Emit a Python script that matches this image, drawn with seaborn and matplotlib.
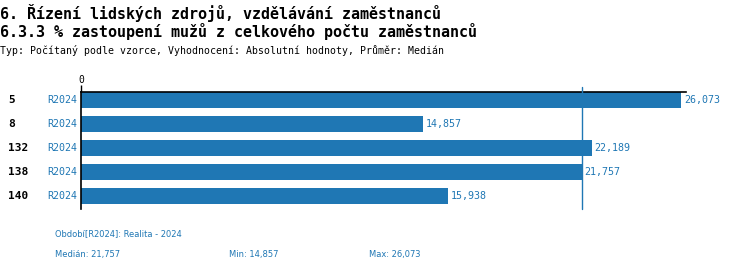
import matplotlib
matplotlib.use("Agg")
import matplotlib.pyplot as plt
import matplotlib.transforms as mtransforms
import seaborn as sns
import pandas as pd

title1 = "6. Řízení lidských zdrojů, vzdělávání zaměstnanců"
title2 = "6.3.3 % zastoupení mužů z celkového počtu zaměstnanců"
subtitle = "Typ: Počítaný podle vzorce, Vyhodnocení: Absolutní hodnoty, Průměr: Medián"
ids = ["5", "8", "132", "138", "140"]
periods = ["R2024", "R2024", "R2024", "R2024", "R2024"]
values = [26.073, 14.857, 22.189, 21.757, 15.938]
value_labels = ["26,073", "14,857", "22,189", "21,757", "15,938"]
median_val = 21.757
footer_period = "Období[R2024]: Realita - 2024"
footer_stats = ["Medián: 21,757", "Min: 14,857", "Max: 26,073"]

BLUE = "#1f77b4"
sns.set_style("white")
plt.rcParams['font.family'] = ['DejaVu Sans Mono', 'DejaVu Sans']
plt.rcParams['text.color'] = 'black'
plt.rcParams['xtick.color'] = 'black'

df = pd.DataFrame({"id": ids, "value": values})

fig = plt.figure(figsize=(7.5, 2.72), dpi=100)
ax = fig.add_axes([81/750, 1-209/272, (686-81)/750, (209-92)/272])
sns.barplot(data=df, x="value", y="id", order=ids, color=BLUE, saturation=1,
            width=0.667, linewidth=0, ax=ax)
ax.set_xlim(0, 26.29)
ax.set_ylim(4.54, -0.333)
ax.set_xlabel("")
ax.set_ylabel("")

for s in ["right", "bottom"]:
    ax.spines[s].set_visible(False)
for s in ["top", "left"]:
    ax.spines[s].set_color("black")
    ax.spines[s].set_linewidth(1.2)

ax.xaxis.tick_top()
ax.set_xticks([0])
ax.set_xticklabels(["0"], fontsize=7, color="black")
ax.tick_params(axis="x", length=5, width=1, color="black", pad=0, top=True, bottom=False)
ax.set_yticks([])

ax.axvline(median_val, ymin=0, ymax=1.045, color=BLUE, lw=1, clip_on=False, zorder=5)

blend = mtransforms.blended_transform_factory(fig.transFigure, ax.transData)
for i, (cid, per, lab, v) in enumerate(zip(ids, periods, value_labels, values)):
    ax.text(8/750, i, cid, transform=blend, ha="left", va="center",
            fontsize=8, fontweight="bold", color="black")
    ax.text(77/750, i, per, transform=blend, ha="right", va="center",
            fontsize=7.2, color=BLUE)
    ax.text(v + 0.12, i, lab, ha="left", va="center", fontsize=7.2, color=BLUE)

fig.text(0, 1-13/272, title1, fontsize=10.8, fontweight="bold", va="center", ha="left", color="black")
fig.text(0, 1-31/272, title2, fontsize=10.8, fontweight="bold", va="center", ha="left", color="black")
fig.text(0, 1-50/272, subtitle, fontsize=7.1, va="center", ha="left", color="black")

fig.text(55/750, 1-234/272, footer_period, fontsize=6.7, color=BLUE, va="center",
         ha="left", family="DejaVu Sans", stretch="condensed")
for xpos, t in zip([55, 229, 369], footer_stats):
    fig.text(xpos/750, 1-254/272, t, fontsize=6.7, color=BLUE, va="center",
             ha="left", family="DejaVu Sans", stretch="condensed")

fig.savefig("out.png", dpi=100)
